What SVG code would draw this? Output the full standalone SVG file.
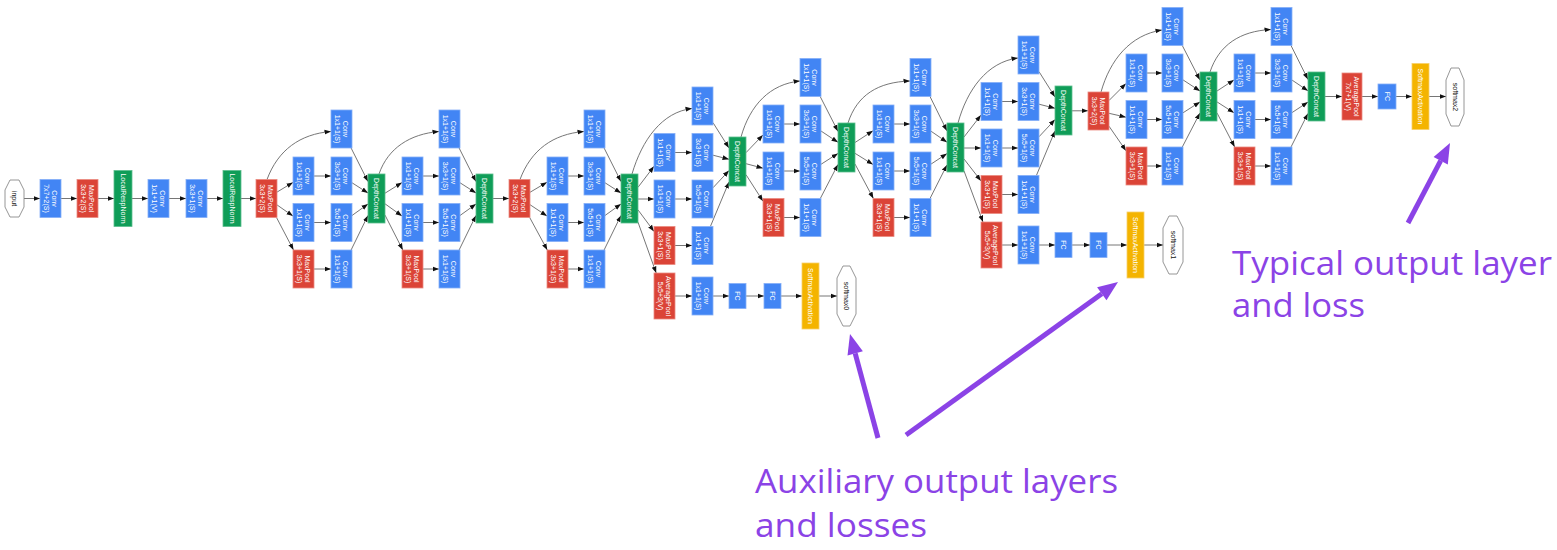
<svg xmlns="http://www.w3.org/2000/svg" width="1557" height="550" viewBox="0 0 1557 550">
<style>
.b{fill:#4285F4;stroke:#86AEF8;stroke-width:0.8}
.r{fill:#DB4437;stroke:#EA8A80;stroke-width:0.8}
.g{fill:#0F9D58;stroke:#5DBE8E;stroke-width:0.8}
.y{fill:#F4B400;stroke:#F8D06A;stroke-width:0.8}
.o{fill:#fff;stroke:#8a8a8a;stroke-width:0.9}
text{font-family:"Liberation Sans",Arial,sans-serif;font-size:7px;fill:#fff;text-anchor:middle}
text.k{fill:#111}
.e path{fill:none;stroke:#666;stroke-width:0.9;marker-end:url(#ah)}
.ann text{font-family:"Open Sans","Liberation Sans",sans-serif;font-size:33.5px;fill:#8B43E6;text-anchor:start}
.ann line{stroke:#8B43E6;stroke-width:5}
.ann polygon{fill:#8B43E6}
</style>
<defs>
<marker id="ah" viewBox="0 0 7 6" markerWidth="7" markerHeight="6" refX="6.5" refY="3" orient="auto" markerUnits="userSpaceOnUse"><path d="M0,0.6 L6.5,3 L0,5.4z" fill="#111"/></marker>
</defs>
<rect width="1557" height="550" fill="#fff"/>

<g class="e" id="connectors">
<path d="M24,198.5L40,198.5"/><path d="M61,198.5L77,198.5"/><path d="M98,198.5L114,198.5"/><path d="M132,198.5L148,198.5"/><path d="M169,198.5L186,198.5"/><path d="M207,198.5L223,198.5"/><path d="M241,198.5L256,198.5"/>
<!-- 3a -->
<path d="M267,179.5C278,150 300,134 331,131.5"/>
<path d="M277,192.1L293,182.4"/><path d="M277,204.9L293,216.1"/><path d="M276.5,217.5L293.5,250"/>
<path d="M314,176L331,176"/><path d="M314,222.5L331,222.5"/><path d="M314,269L331,269"/>
<path d="M351.1,148L368,181.6"/><path d="M352,182.75L368,193"/><path d="M352,215.5L368,204"/><path d="M351.1,250L368,215.4"/>
<!-- 3b -->
<path d="M379,174C388,148 410,134 439,131.5"/>
<path d="M385,193.2L402,182.6"/><path d="M385,203.8L402,216"/><path d="M385,215.1L402.8,250"/>
<path d="M423,176L439,176"/><path d="M423,222.5L439,222.5"/><path d="M423,269L439,269"/>
<path d="M459.1,148L476,181.6"/><path d="M460,182.75L476,193"/><path d="M460,215.5L476,204"/><path d="M459.1,250L476,215.4"/>
<path d="M493,198.5L509,198.5"/>
<!-- 4a -->
<path d="M520,179.5C531,150 553,134 584,131.5"/>
<path d="M530,192.3L547,182.2"/><path d="M530,204.7L547,216"/><path d="M529.7,217.5L547.3,250"/>
<path d="M568,176L584,176"/><path d="M568,222.5L584,222.5"/><path d="M568,269L584,269"/>
<path d="M604.1,148L621,181.6"/><path d="M605,182.75L621,193"/><path d="M605,215.5L621,204"/><path d="M604.1,250L621,215.4"/>
<!-- 4b -->
<path d="M632,174C642,140 662,112 692,108.5"/>
<path d="M638,187.3L654,166.3"/><path d="M638,199L654,199"/><path d="M638,209.9L654,231.4"/><path d="M638,222.2L656.2,273"/>
<path d="M675,152.5L692,152.5"/><path d="M675,199L692,199"/><path d="M675,245.5L692,245.5"/>
<path d="M713,122.65L729,148"/><path d="M713,155.2L729,159.3"/><path d="M713,187.75L729,170.6"/><path d="M710.4,226.5L729,181.9"/>
<path d="M675,296L692,296"/><path d="M713,296L729,296"/><path d="M746,296L764,296"/><path d="M781,296L802,296"/><path d="M819,296L837,296"/>
<!-- 4c -->
<path d="M741,137C750,105 770,84 800,81"/>
<path d="M746,152.65L763,134.9"/><path d="M746,163.7L763,168.2"/><path d="M746,174.7L763,201.2"/>
<path d="M784,124L800,124"/><path d="M784,171L800,171"/><path d="M784,217.5L800,217.5"/>
<path d="M820.2,96.5L838,131.4"/><path d="M821,131L838,142.3"/><path d="M821,164.3L838,153.4"/><path d="M820.3,198.5L838,164.4"/>
<!-- 4d -->
<path d="M848,123C857,95 878,82 910,81"/>
<path d="M855,142.5L873,130.8"/><path d="M855,153.3L873,164.5"/><path d="M855,164L873.4,198.5"/>
<path d="M894,124L910,124"/><path d="M894,171L910,171"/><path d="M894,217.5L910,217.5"/>
<path d="M930,96.5L947,130.9"/><path d="M931,131.2L947,142.2"/><path d="M931,164.1L947,153.6"/><path d="M930,198.5L947,164.9"/>
<!-- 4e -->
<path d="M958,123C967,90 987,62 1018,58"/>
<path d="M964,137L981,115.1"/><path d="M964,148L981,148"/><path d="M964,159L981,180.9"/><path d="M964,170.9L983,222"/>
<path d="M1002,101.5L1018,101.5"/><path d="M1002,148L1018,148"/><path d="M1002,194.5L1018,194.5"/>
<path d="M1039,71.65L1055,97"/><path d="M1039,104.2L1055,108.3"/><path d="M1039,136.75L1055,119.6"/><path d="M1036.4,175.5L1055,130.9"/>
<path d="M1002,245L1018,245"/><path d="M1039,245L1055,245"/><path d="M1072,245L1090,245"/><path d="M1107,245L1127,245"/><path d="M1144,245L1163,245"/>
<path d="M1072,110.8L1088,110.8"/>
<!-- 5a -->
<path d="M1101,92C1110,60 1130,35 1162,30"/>
<path d="M1109,100.5L1126,83.5"/><path d="M1109,113.3L1126,117.2"/><path d="M1109,126.2L1126,150.8"/>
<path d="M1147,73L1162,73"/><path d="M1147,119.5L1162,119.5"/><path d="M1147,166L1162,166"/>
<path d="M1182.3,45.5L1200,80"/><path d="M1183,79.9L1200,91"/><path d="M1183,112.8L1200,101.9"/><path d="M1182.3,147L1200,112.9"/>
<!-- 5b -->
<path d="M1210,72C1219,45 1240,31 1271,29.5"/>
<path d="M1217,91L1234,79.9"/><path d="M1217,101.9L1234,112.8"/><path d="M1217,112.9L1234.7,147"/>
<path d="M1255,73L1271,73"/><path d="M1255,119.5L1271,119.5"/><path d="M1255,166L1271,166"/>
<path d="M1291,45.5L1308,79.5"/><path d="M1292,80.05L1308,90.8"/><path d="M1292,112.6L1308,102.1"/><path d="M1291,147L1308,113.4"/>
<path d="M1325,96.5L1342,96.5"/><path d="M1362,96.5L1378,96.5"/><path d="M1396,96.5L1412,96.5"/><path d="M1429,96.5L1446,96.5"/>
</g>

<!-- stem -->
<g id="input"><polygon class="o" points="10,180 19,180 24,190 24,207 19,217 10,217 5,207 5,190"/><text class="k" transform="translate(14.5,198.5) rotate(90)" y="2.5">input</text></g>
<g id="conv1"><rect class="b" x="40" y="179.5" width="21" height="38"/><text transform="translate(50.5,198.5) rotate(90)"><tspan x="0" y="-1.5">Conv</tspan><tspan x="0" y="6.5">7x7+2(S)</tspan></text></g>
<g id="pool1"><rect class="r" x="77" y="179.5" width="21" height="38"/><text transform="translate(87.5,198.5) rotate(90)"><tspan x="0" y="-1.5">MaxPool</tspan><tspan x="0" y="6.5">3x3+2(S)</tspan></text></g>
<g id="lrn1"><rect class="g" x="114" y="170.5" width="18" height="56"/><text transform="translate(123,198.5) rotate(90)" y="2.5">LocalRespNorm</text></g>
<g id="conv2r"><rect class="b" x="148" y="179.5" width="21" height="38"/><text transform="translate(158.5,198.5) rotate(90)"><tspan x="0" y="-1.5">Conv</tspan><tspan x="0" y="6.5">1x1+1(V)</tspan></text></g>
<g id="conv2"><rect class="b" x="186" y="179.5" width="21" height="38"/><text transform="translate(196.5,198.5) rotate(90)"><tspan x="0" y="-1.5">Conv</tspan><tspan x="0" y="6.5">3x3+1(S)</tspan></text></g>
<g id="lrn2"><rect class="g" x="223" y="170.5" width="18" height="56"/><text transform="translate(232,198.5) rotate(90)" y="2.5">LocalRespNorm</text></g>
<g id="pool2"><rect class="r" x="256" y="179.5" width="21" height="38"/><text transform="translate(266.5,198.5) rotate(90)"><tspan x="0" y="-1.5">MaxPool</tspan><tspan x="0" y="6.5">3x3+2(S)</tspan></text></g>

<!-- inception 3a -->
<g id="i3a_1x1"><rect class="b" x="331" y="110" width="21" height="38"/><text transform="translate(341.5,129) rotate(90)"><tspan x="0" y="-1.5">Conv</tspan><tspan x="0" y="6.5">1x1+1(S)</tspan></text></g>
<g id="i3a_3x3r"><rect class="b" x="293" y="157" width="21" height="38"/><text transform="translate(303.5,176) rotate(90)"><tspan x="0" y="-1.5">Conv</tspan><tspan x="0" y="6.5">1x1+1(S)</tspan></text></g>
<g id="i3a_3x3"><rect class="b" x="331" y="157" width="21" height="38"/><text transform="translate(341.5,176) rotate(90)"><tspan x="0" y="-1.5">Conv</tspan><tspan x="0" y="6.5">3x3+1(S)</tspan></text></g>
<g id="i3a_5x5r"><rect class="b" x="293" y="203.5" width="21" height="38"/><text transform="translate(303.5,222.5) rotate(90)"><tspan x="0" y="-1.5">Conv</tspan><tspan x="0" y="6.5">1x1+1(S)</tspan></text></g>
<g id="i3a_5x5"><rect class="b" x="331" y="203.5" width="21" height="38"/><text transform="translate(341.5,222.5) rotate(90)"><tspan x="0" y="-1.5">Conv</tspan><tspan x="0" y="6.5">5x5+1(S)</tspan></text></g>
<g id="i3a_pool"><rect class="r" x="293" y="250" width="21" height="38"/><text transform="translate(303.5,269) rotate(90)"><tspan x="0" y="-1.5">MaxPool</tspan><tspan x="0" y="6.5">3x3+1(S)</tspan></text></g>
<g id="i3a_proj"><rect class="b" x="331" y="250" width="21" height="38"/><text transform="translate(341.5,269) rotate(90)"><tspan x="0" y="-1.5">Conv</tspan><tspan x="0" y="6.5">1x1+1(S)</tspan></text></g>
<g id="i3a_concat"><rect class="g" x="368" y="174" width="17" height="49"/><text transform="translate(376.5,198.5) rotate(90)" y="2.5">DepthConcat</text></g>

<!-- inception 3b -->
<g id="i3b_1x1"><rect class="b" x="439" y="110" width="21" height="38"/><text transform="translate(449.5,129) rotate(90)"><tspan x="0" y="-1.5">Conv</tspan><tspan x="0" y="6.5">1x1+1(S)</tspan></text></g>
<g id="i3b_3x3r"><rect class="b" x="402" y="157" width="21" height="38"/><text transform="translate(412.5,176) rotate(90)"><tspan x="0" y="-1.5">Conv</tspan><tspan x="0" y="6.5">1x1+1(S)</tspan></text></g>
<g id="i3b_3x3"><rect class="b" x="439" y="157" width="21" height="38"/><text transform="translate(449.5,176) rotate(90)"><tspan x="0" y="-1.5">Conv</tspan><tspan x="0" y="6.5">3x3+1(S)</tspan></text></g>
<g id="i3b_5x5r"><rect class="b" x="402" y="203.5" width="21" height="38"/><text transform="translate(412.5,222.5) rotate(90)"><tspan x="0" y="-1.5">Conv</tspan><tspan x="0" y="6.5">1x1+1(S)</tspan></text></g>
<g id="i3b_5x5"><rect class="b" x="439" y="203.5" width="21" height="38"/><text transform="translate(449.5,222.5) rotate(90)"><tspan x="0" y="-1.5">Conv</tspan><tspan x="0" y="6.5">5x5+1(S)</tspan></text></g>
<g id="i3b_pool"><rect class="r" x="402" y="250" width="21" height="38"/><text transform="translate(412.5,269) rotate(90)"><tspan x="0" y="-1.5">MaxPool</tspan><tspan x="0" y="6.5">3x3+1(S)</tspan></text></g>
<g id="i3b_proj"><rect class="b" x="439" y="250" width="21" height="38"/><text transform="translate(449.5,269) rotate(90)"><tspan x="0" y="-1.5">Conv</tspan><tspan x="0" y="6.5">1x1+1(S)</tspan></text></g>
<g id="i3b_concat"><rect class="g" x="476" y="174" width="17" height="49"/><text transform="translate(484.5,198.5) rotate(90)" y="2.5">DepthConcat</text></g>

<g id="pool3"><rect class="r" x="509" y="179.5" width="21" height="38"/><text transform="translate(519.5,198.5) rotate(90)"><tspan x="0" y="-1.5">MaxPool</tspan><tspan x="0" y="6.5">3x3+2(S)</tspan></text></g>

<!-- inception 4a -->
<g id="i4a_1x1"><rect class="b" x="584" y="110" width="21" height="38"/><text transform="translate(594.5,129) rotate(90)"><tspan x="0" y="-1.5">Conv</tspan><tspan x="0" y="6.5">1x1+1(S)</tspan></text></g>
<g id="i4a_3x3r"><rect class="b" x="547" y="157" width="21" height="38"/><text transform="translate(557.5,176) rotate(90)"><tspan x="0" y="-1.5">Conv</tspan><tspan x="0" y="6.5">1x1+1(S)</tspan></text></g>
<g id="i4a_3x3"><rect class="b" x="584" y="157" width="21" height="38"/><text transform="translate(594.5,176) rotate(90)"><tspan x="0" y="-1.5">Conv</tspan><tspan x="0" y="6.5">3x3+1(S)</tspan></text></g>
<g id="i4a_5x5r"><rect class="b" x="547" y="203.5" width="21" height="38"/><text transform="translate(557.5,222.5) rotate(90)"><tspan x="0" y="-1.5">Conv</tspan><tspan x="0" y="6.5">1x1+1(S)</tspan></text></g>
<g id="i4a_5x5"><rect class="b" x="584" y="203.5" width="21" height="38"/><text transform="translate(594.5,222.5) rotate(90)"><tspan x="0" y="-1.5">Conv</tspan><tspan x="0" y="6.5">5x5+1(S)</tspan></text></g>
<g id="i4a_pool"><rect class="r" x="547" y="250" width="21" height="38"/><text transform="translate(557.5,269) rotate(90)"><tspan x="0" y="-1.5">MaxPool</tspan><tspan x="0" y="6.5">3x3+1(S)</tspan></text></g>
<g id="i4a_proj"><rect class="b" x="584" y="250" width="21" height="38"/><text transform="translate(594.5,269) rotate(90)"><tspan x="0" y="-1.5">Conv</tspan><tspan x="0" y="6.5">1x1+1(S)</tspan></text></g>
<g id="i4a_concat"><rect class="g" x="621" y="174" width="17" height="49"/><text transform="translate(629.5,198.5) rotate(90)" y="2.5">DepthConcat</text></g>

<!-- inception 4b -->
<g id="i4b_1x1"><rect class="b" x="692" y="87" width="21" height="38"/><text transform="translate(702.5,106) rotate(90)"><tspan x="0" y="-1.5">Conv</tspan><tspan x="0" y="6.5">1x1+1(S)</tspan></text></g>
<g id="i4b_3x3r"><rect class="b" x="654" y="133.5" width="21" height="38"/><text transform="translate(664.5,152.5) rotate(90)"><tspan x="0" y="-1.5">Conv</tspan><tspan x="0" y="6.5">1x1+1(S)</tspan></text></g>
<g id="i4b_3x3"><rect class="b" x="692" y="133.5" width="21" height="38"/><text transform="translate(702.5,152.5) rotate(90)"><tspan x="0" y="-1.5">Conv</tspan><tspan x="0" y="6.5">3x3+1(S)</tspan></text></g>
<g id="i4b_5x5r"><rect class="b" x="654" y="180" width="21" height="38"/><text transform="translate(664.5,199) rotate(90)"><tspan x="0" y="-1.5">Conv</tspan><tspan x="0" y="6.5">1x1+1(S)</tspan></text></g>
<g id="i4b_5x5"><rect class="b" x="692" y="180" width="21" height="38"/><text transform="translate(702.5,199) rotate(90)"><tspan x="0" y="-1.5">Conv</tspan><tspan x="0" y="6.5">5x5+1(S)</tspan></text></g>
<g id="i4b_pool"><rect class="r" x="654" y="226.5" width="21" height="38"/><text transform="translate(664.5,245.5) rotate(90)"><tspan x="0" y="-1.5">MaxPool</tspan><tspan x="0" y="6.5">3x3+1(S)</tspan></text></g>
<g id="i4b_proj"><rect class="b" x="692" y="226.5" width="21" height="38"/><text transform="translate(702.5,245.5) rotate(90)"><tspan x="0" y="-1.5">Conv</tspan><tspan x="0" y="6.5">1x1+1(S)</tspan></text></g>
<g id="i4b_concat"><rect class="g" x="729" y="137" width="17" height="49"/><text transform="translate(737.5,161.5) rotate(90)" y="2.5">DepthConcat</text></g>

<!-- auxiliary 0 -->
<g id="aux0_pool"><rect class="r" x="654" y="273" width="21" height="46"/><text transform="translate(664.5,296) rotate(90)"><tspan x="0" y="-1.5">AveragePool</tspan><tspan x="0" y="6.5">5x5+3(V)</tspan></text></g>
<g id="aux0_conv"><rect class="b" x="692" y="277" width="21" height="38"/><text transform="translate(702.5,296) rotate(90)"><tspan x="0" y="-1.5">Conv</tspan><tspan x="0" y="6.5">1x1+1(S)</tspan></text></g>
<g id="aux0_fc1"><rect class="b" x="729" y="283.5" width="17" height="25"/><text transform="translate(737.5,296) rotate(90)" y="2.5">FC</text></g>
<g id="aux0_fc2"><rect class="b" x="764" y="283.5" width="17" height="25"/><text transform="translate(772.5,296) rotate(90)" y="2.5">FC</text></g>
<g id="aux0_act"><rect class="y" x="802" y="263" width="17" height="66"/><text transform="translate(810.5,296) rotate(90)" y="2.5">SoftmaxActivation</text></g>
<g id="softmax0"><polygon class="o" points="843,266 850,266 856,278 856,314 850,326 843,326 837,314 837,278"/><text class="k" transform="translate(846.5,296) rotate(90)" y="2.5">softmax0</text></g>

<!-- inception 4c -->
<g id="i4c_1x1"><rect class="b" x="800" y="58.5" width="21" height="38"/><text transform="translate(810.5,77.5) rotate(90)"><tspan x="0" y="-1.5">Conv</tspan><tspan x="0" y="6.5">1x1+1(S)</tspan></text></g>
<g id="i4c_3x3r"><rect class="b" x="763" y="105" width="21" height="38"/><text transform="translate(773.5,124) rotate(90)"><tspan x="0" y="-1.5">Conv</tspan><tspan x="0" y="6.5">1x1+1(S)</tspan></text></g>
<g id="i4c_3x3"><rect class="b" x="800" y="105" width="21" height="38"/><text transform="translate(810.5,124) rotate(90)"><tspan x="0" y="-1.5">Conv</tspan><tspan x="0" y="6.5">3x3+1(S)</tspan></text></g>
<g id="i4c_5x5r"><rect class="b" x="763" y="152" width="21" height="38"/><text transform="translate(773.5,171) rotate(90)"><tspan x="0" y="-1.5">Conv</tspan><tspan x="0" y="6.5">1x1+1(S)</tspan></text></g>
<g id="i4c_5x5"><rect class="b" x="800" y="152" width="21" height="38"/><text transform="translate(810.5,171) rotate(90)"><tspan x="0" y="-1.5">Conv</tspan><tspan x="0" y="6.5">5x5+1(S)</tspan></text></g>
<g id="i4c_pool"><rect class="r" x="763" y="198.5" width="21" height="38"/><text transform="translate(773.5,217.5) rotate(90)"><tspan x="0" y="-1.5">MaxPool</tspan><tspan x="0" y="6.5">3x3+1(S)</tspan></text></g>
<g id="i4c_proj"><rect class="b" x="800" y="198.5" width="21" height="38"/><text transform="translate(810.5,217.5) rotate(90)"><tspan x="0" y="-1.5">Conv</tspan><tspan x="0" y="6.5">1x1+1(S)</tspan></text></g>
<g id="i4c_concat"><rect class="g" x="838" y="123" width="17" height="49"/><text transform="translate(846.5,147.5) rotate(90)" y="2.5">DepthConcat</text></g>

<!-- inception 4d -->
<g id="i4d_1x1"><rect class="b" x="910" y="58.5" width="21" height="38"/><text transform="translate(920.5,77.5) rotate(90)"><tspan x="0" y="-1.5">Conv</tspan><tspan x="0" y="6.5">1x1+1(S)</tspan></text></g>
<g id="i4d_3x3r"><rect class="b" x="873" y="105" width="21" height="38"/><text transform="translate(883.5,124) rotate(90)"><tspan x="0" y="-1.5">Conv</tspan><tspan x="0" y="6.5">1x1+1(S)</tspan></text></g>
<g id="i4d_3x3"><rect class="b" x="910" y="105" width="21" height="38"/><text transform="translate(920.5,124) rotate(90)"><tspan x="0" y="-1.5">Conv</tspan><tspan x="0" y="6.5">3x3+1(S)</tspan></text></g>
<g id="i4d_5x5r"><rect class="b" x="873" y="152" width="21" height="38"/><text transform="translate(883.5,171) rotate(90)"><tspan x="0" y="-1.5">Conv</tspan><tspan x="0" y="6.5">1x1+1(S)</tspan></text></g>
<g id="i4d_5x5"><rect class="b" x="910" y="152" width="21" height="38"/><text transform="translate(920.5,171) rotate(90)"><tspan x="0" y="-1.5">Conv</tspan><tspan x="0" y="6.5">5x5+1(S)</tspan></text></g>
<g id="i4d_pool"><rect class="r" x="873" y="198.5" width="21" height="38"/><text transform="translate(883.5,217.5) rotate(90)"><tspan x="0" y="-1.5">MaxPool</tspan><tspan x="0" y="6.5">3x3+1(S)</tspan></text></g>
<g id="i4d_proj"><rect class="b" x="910" y="198.5" width="21" height="38"/><text transform="translate(920.5,217.5) rotate(90)"><tspan x="0" y="-1.5">Conv</tspan><tspan x="0" y="6.5">1x1+1(S)</tspan></text></g>
<g id="i4d_concat"><rect class="g" x="947" y="123" width="17" height="49"/><text transform="translate(955.5,147.5) rotate(90)" y="2.5">DepthConcat</text></g>

<!-- inception 4e -->
<g id="i4e_1x1"><rect class="b" x="1018" y="36" width="21" height="38"/><text transform="translate(1028.5,55) rotate(90)"><tspan x="0" y="-1.5">Conv</tspan><tspan x="0" y="6.5">1x1+1(S)</tspan></text></g>
<g id="i4e_3x3r"><rect class="b" x="981" y="82.5" width="21" height="38"/><text transform="translate(991.5,101.5) rotate(90)"><tspan x="0" y="-1.5">Conv</tspan><tspan x="0" y="6.5">1x1+1(S)</tspan></text></g>
<g id="i4e_3x3"><rect class="b" x="1018" y="82.5" width="21" height="38"/><text transform="translate(1028.5,101.5) rotate(90)"><tspan x="0" y="-1.5">Conv</tspan><tspan x="0" y="6.5">3x3+1(S)</tspan></text></g>
<g id="i4e_5x5r"><rect class="b" x="981" y="129" width="21" height="38"/><text transform="translate(991.5,148) rotate(90)"><tspan x="0" y="-1.5">Conv</tspan><tspan x="0" y="6.5">1x1+1(S)</tspan></text></g>
<g id="i4e_5x5"><rect class="b" x="1018" y="129" width="21" height="38"/><text transform="translate(1028.5,148) rotate(90)"><tspan x="0" y="-1.5">Conv</tspan><tspan x="0" y="6.5">5x5+1(S)</tspan></text></g>
<g id="i4e_pool"><rect class="r" x="981" y="175.5" width="21" height="38"/><text transform="translate(991.5,194.5) rotate(90)"><tspan x="0" y="-1.5">MaxPool</tspan><tspan x="0" y="6.5">3x3+1(S)</tspan></text></g>
<g id="i4e_proj"><rect class="b" x="1018" y="175.5" width="21" height="38"/><text transform="translate(1028.5,194.5) rotate(90)"><tspan x="0" y="-1.5">Conv</tspan><tspan x="0" y="6.5">1x1+1(S)</tspan></text></g>
<g id="i4e_concat"><rect class="g" x="1055" y="86" width="17" height="49"/><text transform="translate(1063.5,110.5) rotate(90)" y="2.5">DepthConcat</text></g>

<!-- auxiliary 1 -->
<g id="aux1_pool"><rect class="r" x="981" y="222" width="21" height="46"/><text transform="translate(991.5,245) rotate(90)"><tspan x="0" y="-1.5">AveragePool</tspan><tspan x="0" y="6.5">5x5+3(V)</tspan></text></g>
<g id="aux1_conv"><rect class="b" x="1018" y="226" width="21" height="38"/><text transform="translate(1028.5,245) rotate(90)"><tspan x="0" y="-1.5">Conv</tspan><tspan x="0" y="6.5">1x1+1(S)</tspan></text></g>
<g id="aux1_fc1"><rect class="b" x="1055" y="232.5" width="17" height="25"/><text transform="translate(1063.5,245) rotate(90)" y="2.5">FC</text></g>
<g id="aux1_fc2"><rect class="b" x="1090" y="232.5" width="17" height="25"/><text transform="translate(1098.5,245) rotate(90)" y="2.5">FC</text></g>
<g id="aux1_act"><rect class="y" x="1127" y="212" width="17" height="66"/><text transform="translate(1135.5,245) rotate(90)" y="2.5">SoftmaxActivation</text></g>
<g id="softmax1"><polygon class="o" points="1169,216 1177,216 1183,228 1183,262 1177,274 1169,274 1163,262 1163,228"/><text class="k" transform="translate(1173,245) rotate(90)" y="2.5">softmax1</text></g>

<g id="pool4"><rect class="r" x="1088" y="92" width="21" height="38"/><text transform="translate(1098.5,111) rotate(90)"><tspan x="0" y="-1.5">MaxPool</tspan><tspan x="0" y="6.5">3x3+2(S)</tspan></text></g>

<!-- inception 5a -->
<g id="i5a_1x1"><rect class="b" x="1162" y="7.5" width="21" height="38"/><text transform="translate(1172.5,26.5) rotate(90)"><tspan x="0" y="-1.5">Conv</tspan><tspan x="0" y="6.5">1x1+1(S)</tspan></text></g>
<g id="i5a_3x3r"><rect class="b" x="1126" y="54" width="21" height="38"/><text transform="translate(1136.5,73) rotate(90)"><tspan x="0" y="-1.5">Conv</tspan><tspan x="0" y="6.5">1x1+1(S)</tspan></text></g>
<g id="i5a_3x3"><rect class="b" x="1162" y="54" width="21" height="38"/><text transform="translate(1172.5,73) rotate(90)"><tspan x="0" y="-1.5">Conv</tspan><tspan x="0" y="6.5">3x3+1(S)</tspan></text></g>
<g id="i5a_5x5r"><rect class="b" x="1126" y="100.5" width="21" height="38"/><text transform="translate(1136.5,119.5) rotate(90)"><tspan x="0" y="-1.5">Conv</tspan><tspan x="0" y="6.5">1x1+1(S)</tspan></text></g>
<g id="i5a_5x5"><rect class="b" x="1162" y="100.5" width="21" height="38"/><text transform="translate(1172.5,119.5) rotate(90)"><tspan x="0" y="-1.5">Conv</tspan><tspan x="0" y="6.5">5x5+1(S)</tspan></text></g>
<g id="i5a_pool"><rect class="r" x="1126" y="147" width="21" height="38"/><text transform="translate(1136.5,166) rotate(90)"><tspan x="0" y="-1.5">MaxPool</tspan><tspan x="0" y="6.5">3x3+1(S)</tspan></text></g>
<g id="i5a_proj"><rect class="b" x="1162" y="147" width="21" height="38"/><text transform="translate(1172.5,166) rotate(90)"><tspan x="0" y="-1.5">Conv</tspan><tspan x="0" y="6.5">1x1+1(S)</tspan></text></g>
<g id="i5a_concat"><rect class="g" x="1200" y="72" width="17" height="49"/><text transform="translate(1208.5,96.5) rotate(90)" y="2.5">DepthConcat</text></g>

<!-- inception 5b -->
<g id="i5b_1x1"><rect class="b" x="1271" y="7.5" width="21" height="38"/><text transform="translate(1281.5,26.5) rotate(90)"><tspan x="0" y="-1.5">Conv</tspan><tspan x="0" y="6.5">1x1+1(S)</tspan></text></g>
<g id="i5b_3x3r"><rect class="b" x="1234" y="54" width="21" height="38"/><text transform="translate(1244.5,73) rotate(90)"><tspan x="0" y="-1.5">Conv</tspan><tspan x="0" y="6.5">1x1+1(S)</tspan></text></g>
<g id="i5b_3x3"><rect class="b" x="1271" y="54" width="21" height="38"/><text transform="translate(1281.5,73) rotate(90)"><tspan x="0" y="-1.5">Conv</tspan><tspan x="0" y="6.5">3x3+1(S)</tspan></text></g>
<g id="i5b_5x5r"><rect class="b" x="1234" y="100.5" width="21" height="38"/><text transform="translate(1244.5,119.5) rotate(90)"><tspan x="0" y="-1.5">Conv</tspan><tspan x="0" y="6.5">1x1+1(S)</tspan></text></g>
<g id="i5b_5x5"><rect class="b" x="1271" y="100.5" width="21" height="38"/><text transform="translate(1281.5,119.5) rotate(90)"><tspan x="0" y="-1.5">Conv</tspan><tspan x="0" y="6.5">5x5+1(S)</tspan></text></g>
<g id="i5b_pool"><rect class="r" x="1234" y="147" width="21" height="38"/><text transform="translate(1244.5,166) rotate(90)"><tspan x="0" y="-1.5">MaxPool</tspan><tspan x="0" y="6.5">3x3+1(S)</tspan></text></g>
<g id="i5b_proj"><rect class="b" x="1271" y="147" width="21" height="38"/><text transform="translate(1281.5,166) rotate(90)"><tspan x="0" y="-1.5">Conv</tspan><tspan x="0" y="6.5">1x1+1(S)</tspan></text></g>
<g id="i5b_concat"><rect class="g" x="1308" y="72" width="17" height="49"/><text transform="translate(1316.5,96.5) rotate(90)" y="2.5">DepthConcat</text></g>

<!-- head -->
<g id="avgpool"><rect class="r" x="1342" y="73" width="20" height="47"/><text transform="translate(1352,96.5) rotate(90)"><tspan x="0" y="-1.5">AveragePool</tspan><tspan x="0" y="6.5">7x7+1(V)</tspan></text></g>
<g id="fc"><rect class="b" x="1378" y="84" width="18" height="25"/><text transform="translate(1387,96.5) rotate(90)" y="2.5">FC</text></g>
<g id="act2"><rect class="y" x="1412" y="63.5" width="17" height="66"/><text transform="translate(1420.5,96.5) rotate(90)" y="2.5">SoftmaxActivation</text></g>
<g id="softmax2"><polygon class="o" points="1451,68 1459,68 1464,80 1464,114 1459,126 1451,126 1446,114 1446,80"/><text class="k" transform="translate(1455,97) rotate(90)" y="2.5">softmax2</text></g>

<!-- annotations -->
<g class="ann" id="annotations">
<line x1="878" y1="438" x2="855.2" y2="353.3"/>
<polygon points="850,334 862.9,351.2 847.5,355.4"/>
<line x1="906" y1="435" x2="1101.8" y2="293.7"/>
<polygon points="1118,282 1106.5,300.2 1097.1,287.2"/>
<line x1="1408" y1="223" x2="1440.7" y2="160.7"/>
<polygon points="1450,143 1447.8,164.4 1433.6,157"/>
<text x="755" y="493" textLength="363" lengthAdjust="spacingAndGlyphs">Auxiliary output layers</text>
<text x="755" y="537" textLength="172" lengthAdjust="spacingAndGlyphs">and losses</text>
<text x="1232" y="275" textLength="320" lengthAdjust="spacingAndGlyphs">Typical output layer</text>
<text x="1232" y="317" textLength="133" lengthAdjust="spacingAndGlyphs">and loss</text>
</g>
</svg>
